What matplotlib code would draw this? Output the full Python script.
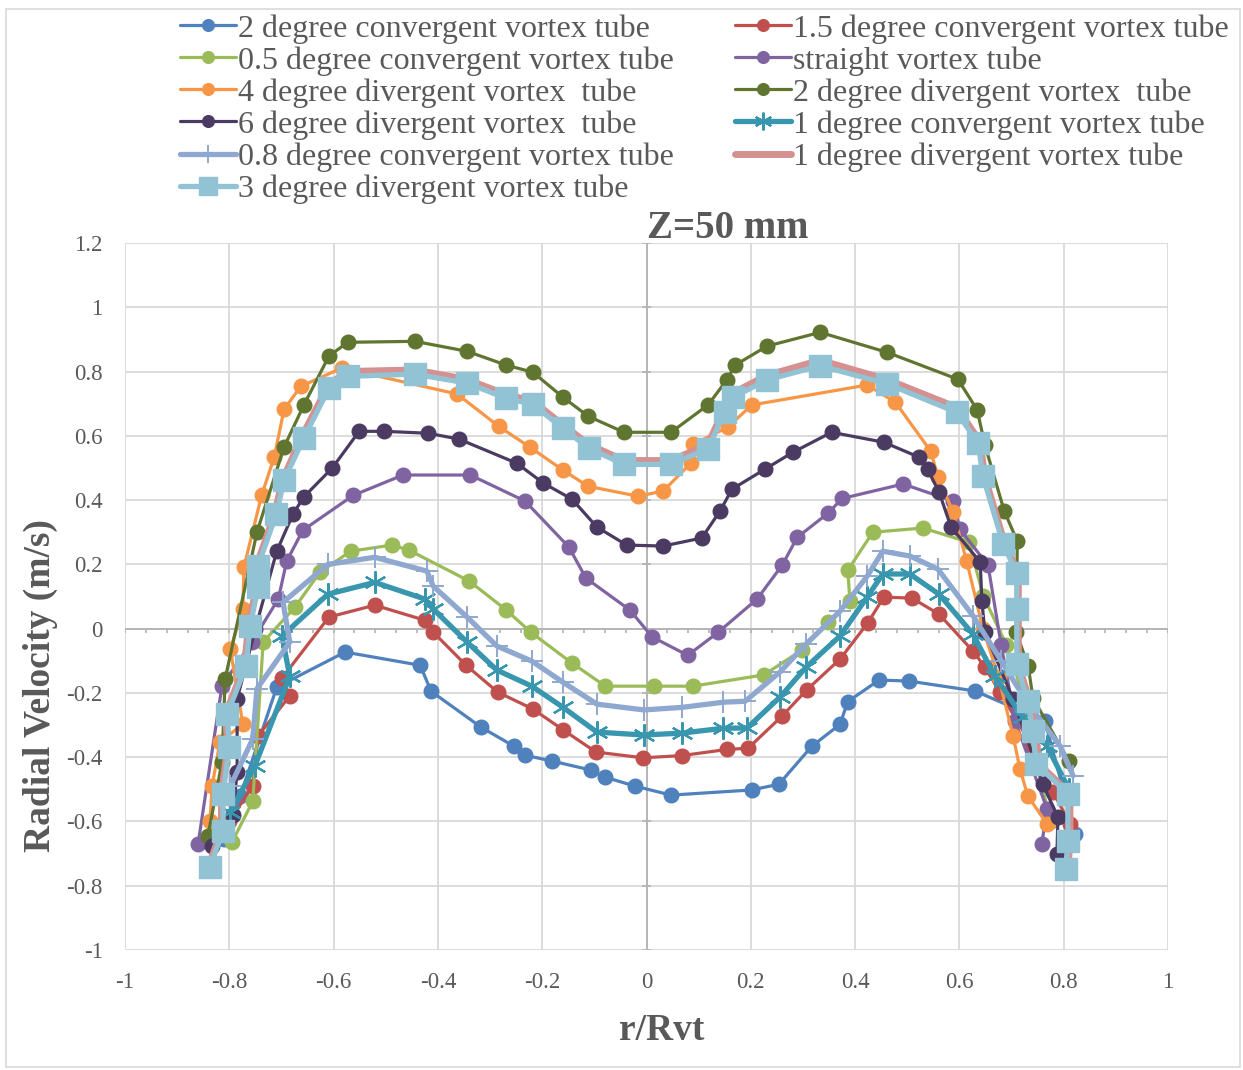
import matplotlib
matplotlib.use('Agg')
import matplotlib.pyplot as plt
from matplotlib.patches import Rectangle
import numpy as np

plt.rcParams['font.family'] = ['Liberation Serif', 'DejaVu Serif']

# ---------------- data ----------------
labels = ["2 degree convergent vortex tube", "1.5 degree convergent vortex tube",
          "0.5 degree convergent vortex tube", "straight vortex tube",
          "4 degree divergent vortex  tube", "2 degree divergent vortex  tube",
          "6 degree divergent vortex  tube", "1 degree convergent vortex tube",
          "0.8 degree convergent vortex tube", "1 degree divergent vortex tube",
          "3 degree divergent vortex tube"]

x_conv2 = [-0.81, -0.779, -0.709, -0.578, -0.434, -0.413, -0.317, -0.254, -0.233, -0.181, -0.107, -0.080,
           -0.022, 0.047, 0.202, 0.254, 0.317, 0.371, 0.386, 0.446, 0.503, 0.630, 0.764, 0.822]
y_conv2 = [-0.655, -0.521, -0.182, -0.073, -0.114, -0.195, -0.307, -0.366, -0.394, -0.412, -0.440, -0.462,
           -0.490, -0.518, -0.502, -0.484, -0.366, -0.298, -0.227, -0.160, -0.163, -0.194, -0.288, -0.639]

x_conv15 = [-0.80, -0.755, -0.745, -0.684, -0.699, -0.609, -0.521, -0.425, -0.409, -0.346, -0.285, -0.218,
            -0.160, -0.097, -0.007, 0.068, 0.154, 0.195, 0.260, 0.307, 0.371, 0.424, 0.455, 0.509, 0.561,
            0.626, 0.649, 0.678, 0.739, 0.780, 0.812]
y_conv15 = [-0.60, -0.489, -0.334, -0.209, -0.154, 0.036, 0.073, 0.026, -0.011, -0.114, -0.198, -0.250,
            -0.315, -0.384, -0.402, -0.395, -0.376, -0.372, -0.272, -0.191, -0.095, 0.017, 0.098, 0.095, 0.045,
            -0.070, -0.120, -0.198, -0.365, -0.509, -0.608]

x_conv05 = [-0.795, -0.755, -0.735, -0.674, -0.626, -0.567, -0.488, -0.455, -0.340, -0.269, -0.222, -0.143,
            -0.079, 0.014, 0.089, 0.225, 0.298, 0.348, 0.390, 0.386, 0.434, 0.530, 0.618, 0.646, 0.690,
            0.725, 0.745, 0.775]
y_conv05 = [-0.665, -0.537, -0.042, 0.067, 0.176, 0.241, 0.260, 0.244, 0.148, 0.058, -0.011, -0.107,
            -0.179, -0.179, -0.179, -0.144, -0.067, 0.020, 0.086, 0.182, 0.300, 0.313, 0.269, 0.101, -0.050,
            -0.220, -0.400, -0.600]

x_straight = [-0.860, -0.814, -0.757, -0.706, -0.690, -0.659, -0.562, -0.467, -0.338, -0.233, -0.149, -0.116,
              -0.032, 0.011, 0.079, 0.137, 0.212, 0.260, 0.289, 0.348, 0.375, 0.492, 0.588, 0.601, 0.655,
              0.680, 0.707, 0.768, 0.758]
y_straight = [-0.671, -0.178, -0.042, 0.092, 0.210, 0.306, 0.415, 0.478, 0.478, 0.397, 0.254, 0.157,
              0.058, -0.026, -0.083, -0.012, 0.092, 0.197, 0.284, 0.359, 0.405, 0.450, 0.397, 0.309, 0.197,
              -0.050, -0.288, -0.561, -0.670]

x_div4 = [-0.837, -0.833, -0.818, -0.774, -0.798, -0.774, -0.772, -0.738, -0.714, -0.695, -0.663, -0.584,
          -0.363, -0.283, -0.223, -0.160, -0.112, -0.016, 0.032, 0.085, 0.089, 0.156, 0.202, 0.423, 0.477,
          0.545, 0.559, 0.588, 0.614, 0.645, 0.675, 0.703, 0.716, 0.731, 0.768]
y_div4 = [-0.600, -0.490, -0.353, -0.297, -0.064, 0.061, 0.191, 0.415, 0.533, 0.682, 0.754, 0.811,
          0.730, 0.629, 0.564, 0.493, 0.443, 0.412, 0.428, 0.515, 0.573, 0.627, 0.696, 0.758, 0.705,
          0.552, 0.471, 0.362, 0.210, 0.000, -0.150, -0.334, -0.436, -0.520, -0.608]

x_div2 = [-0.841, -0.814, -0.808, -0.747, -0.695, -0.657, -0.609, -0.573, -0.444, -0.344, -0.269, -0.218,
          -0.160, -0.112, -0.043, 0.047, 0.118, 0.154, 0.170, 0.231, 0.333, 0.461, 0.597, 0.634, 0.649,
          0.686, 0.711, 0.709, 0.732, 0.741, 0.810]
y_div2 = [-0.645, -0.415, -0.157, 0.300, 0.565, 0.696, 0.848, 0.891, 0.894, 0.863, 0.820, 0.798,
          0.720, 0.661, 0.611, 0.611, 0.696, 0.774, 0.820, 0.879, 0.922, 0.860, 0.776, 0.681, 0.571,
          0.366, 0.272, -0.011, -0.117, -0.216, -0.412]

x_div6 = [-0.833, -0.793, -0.785, -0.785, -0.750, -0.709, -0.678, -0.657, -0.603, -0.551, -0.503, -0.419,
          -0.360, -0.249, -0.198, -0.143, -0.095, -0.038, 0.032, 0.106, 0.141, 0.164, 0.227, 0.281, 0.355,
          0.455, 0.522, 0.539, 0.561, 0.584, 0.640, 0.643, 0.649, 0.703, 0.760, 0.789, 0.787]
y_div6 = [-0.676, -0.580, -0.446, -0.219, 0.000, 0.241, 0.356, 0.410, 0.499, 0.614, 0.614, 0.608,
          0.590, 0.515, 0.453, 0.403, 0.316, 0.260, 0.257, 0.282, 0.366, 0.434, 0.496, 0.549, 0.611,
          0.580, 0.534, 0.496, 0.425, 0.316, 0.207, 0.086, -0.011, -0.219, -0.484, -0.587, -0.702]

x_conv1 = [-0.798, -0.751, -0.684, -0.699, -0.611, -0.521, -0.425, -0.409, -0.344, -0.287, -0.220, -0.160,
           -0.095, -0.005, 0.068, 0.147, 0.193, 0.256, 0.306, 0.371, 0.423, 0.453, 0.505, 0.561, 0.626,
           0.668, 0.722, 0.768, 0.810]
y_conv1 = [-0.571, -0.427, -0.148, -0.023, 0.107, 0.144, 0.092, 0.061, -0.042, -0.129, -0.179, -0.245,
           -0.322, -0.331, -0.325, -0.310, -0.309, -0.213, -0.120, -0.023, 0.098, 0.170, 0.170, 0.107, -0.017,
           -0.148, -0.276, -0.365, -0.500]

x_conv08 = [-0.798, -0.755, -0.747, -0.684, -0.697, -0.611, -0.521, -0.421, -0.409, -0.344, -0.287, -0.220,
            -0.160, -0.095, -0.005, 0.068, 0.147, 0.189, 0.256, 0.306, 0.371, 0.423, 0.453, 0.505, 0.559,
            0.626, 0.680, 0.730, 0.793, 0.818]
y_conv08 = [-0.490, -0.343, -0.187, -0.042, 0.082, 0.200, 0.222, 0.179, 0.132, 0.036, -0.054, -0.101,
            -0.167, -0.235, -0.253, -0.245, -0.229, -0.226, -0.135, -0.048, 0.054, 0.163, 0.241, 0.226, 0.185,
            0.040, -0.100, -0.230, -0.365, -0.458]

x_div1 = [-0.840, -0.815, -0.815, -0.803, -0.807, -0.771, -0.763, -0.748, -0.748, -0.713, -0.698, -0.660,
          -0.609, -0.573, -0.444, -0.344, -0.269, -0.218, -0.160, -0.110, -0.043, 0.047, 0.118, 0.150,
          0.166, 0.231, 0.333, 0.461, 0.595, 0.640, 0.648, 0.687, 0.713, 0.713, 0.713, 0.734, 0.745,
          0.752, 0.812, 0.812, 0.808]
y_div1 = [-0.740, -0.630, -0.515, -0.368, -0.266, -0.117, 0.008, 0.129, 0.195, 0.356, 0.462, 0.600,
          0.760, 0.800, 0.805, 0.775, 0.728, 0.708, 0.633, 0.572, 0.523, 0.523, 0.573, 0.688,
          0.733, 0.788, 0.835, 0.775, 0.688, 0.580, 0.475, 0.263, 0.173, 0.061, -0.110, -0.225, -0.319,
          -0.421, -0.514, -0.661, -0.748]

x_div3 = [-0.837, -0.812, -0.812, -0.800, -0.804, -0.768, -0.760, -0.745, -0.745, -0.710, -0.695, -0.657,
          -0.609, -0.573, -0.444, -0.344, -0.269, -0.218, -0.160, -0.110, -0.043, 0.047, 0.118, 0.150,
          0.166, 0.231, 0.333, 0.461, 0.595, 0.636, 0.645, 0.684, 0.710, 0.710, 0.710, 0.731, 0.741,
          0.747, 0.808, 0.808, 0.804]
y_div3 = [-0.741, -0.630, -0.515, -0.368, -0.266, -0.117, 0.008, 0.129, 0.195, 0.356, 0.462, 0.593,
          0.748, 0.785, 0.792, 0.764, 0.717, 0.698, 0.623, 0.561, 0.511, 0.511, 0.560, 0.673,
          0.720, 0.774, 0.818, 0.762, 0.673, 0.577, 0.475, 0.263, 0.173, 0.061, -0.110, -0.225, -0.319,
          -0.421, -0.514, -0.661, -0.748]

xs = [x_conv2, x_conv15, x_conv05, x_straight, x_div4, x_div2, x_div6, x_conv1, x_conv08, x_div1, x_div3]
ys = [y_conv2, y_conv15, y_conv05, y_straight, y_div4, y_div2, y_div6, y_conv1, y_conv08, y_div1, y_div3]

x_ticks = [-1, -0.8, -0.6, -0.4, -0.2, 0, 0.2, 0.4, 0.6, 0.8, 1]
y_ticks = [-1, -0.8, -0.6, -0.4, -0.2, 0, 0.2, 0.4, 0.6, 0.8, 1, 1.2]

# ---------------- styles ----------------
colors = ['#4F81BD', '#C0504D', '#9BBB59', '#8064A2', '#F79646', '#5F7530',
          '#4B3B62', '#3896AF', '#8FA8CF', '#D49190', '#92C3D5']
styles = [
    dict(marker='o', ms=10.5, lw=2.3),
    dict(marker='o', ms=10.5, lw=2.3),
    dict(marker='o', ms=10.5, lw=2.3),
    dict(marker='o', ms=10.5, lw=2.3),
    dict(marker='o', ms=10.5, lw=2.3),
    dict(marker='o', ms=10.5, lw=2.3),
    dict(marker='o', ms=10.5, lw=2.3),
    dict(marker=(6, 2, 0), ms=16, lw=3.8, mew=1.6),
    dict(marker='+', ms=16, lw=3.8, mew=1.4),
    dict(marker='None', ms=0, lw=5.0),
    dict(marker='s', ms=15.5, lw=3.8),
]

W, H = 1243, 1070
fig = plt.figure(figsize=(W / 100, H / 100), dpi=100)
ax = fig.add_axes([125 / W, 1 - 950 / H, (1168 - 125) / W, (950 - 243) / H])

grid_c = '#D9D9D9'
txt_c = '#595959'

ax.set_xlim(-1, 1)
ax.set_ylim(-1, 1.2)
ax.set_xticks(x_ticks)
ax.set_yticks(y_ticks)
ax.set_xticklabels([('%g' % v) for v in x_ticks])
ax.set_yticklabels([('%g' % v) for v in y_ticks])
ax.tick_params(length=0, labelsize=16.5, colors=txt_c)
ax.tick_params(axis='x', pad=16)
ax.tick_params(axis='y', pad=16)
for s in ax.spines.values():
    s.set_visible(False)
ax.grid(True, color=grid_c, lw=1.3, zorder=0)
ax.set_axisbelow(True)

# zero axes with tick marks
axis_c = '#B3B3B3'
ax.axhline(0, color=axis_c, lw=1.3, zorder=1)
ax.axvline(0, color=axis_c, lw=1.3, zorder=1)
minor = np.arange(-1, 1.0001, 0.04)
ax.vlines(minor, -0.013, 0, color=axis_c, lw=1.2, zorder=1)
ax.hlines(y_ticks, -0.008, 0.008, color=axis_c, lw=1.2, zorder=1)

handles = []
for i in range(len(xs)):
    st = styles[i]
    h, = ax.plot(xs[i], ys[i], color=colors[i], lw=st['lw'], marker=st['marker'],
                 ms=st['ms'], mew=st.get('mew', 1.0), mfc=colors[i], mec=colors[i],
                 solid_joinstyle='round', solid_capstyle='round', zorder=3 + i, label=labels[i])
    handles.append(h)

fig.text(662 / W, 1 - 1030 / H, 'r/Rvt', fontsize=27, fontweight='bold', color=txt_c,
         ha='center', va='center')
fig.text(40 / W, 1 - 686 / H, 'Radial Velocity (m/s)', fontsize=27, fontweight='bold',
         color=txt_c, ha='center', va='center', rotation=90)
fig.text(728 / W, 1 - 229 / H, 'Z=50 mm', fontsize=28, fontweight='bold', color=txt_c,
         ha='center', va='center')

# legend: two columns, filled row-wise like the original
left_idx = [0, 2, 4, 6, 8, 10]
right_idx = [1, 3, 5, 7, 9]
leg_kw = dict(frameon=False, fontsize=23, handlelength=1.75, handletextpad=0.06,
              labelspacing=0.08, borderpad=0, borderaxespad=0, numpoints=1, loc='upper left',
              labelcolor=txt_c, markerscale=0.8)
leg1 = fig.legend([handles[i] for i in left_idx], [labels[i] for i in left_idx],
                  bbox_to_anchor=(180 / W, 1 - 14 / H), **leg_kw)
leg2 = fig.legend([handles[i] for i in right_idx], [labels[i] for i in right_idx],
                  bbox_to_anchor=(735 / W, 1 - 14 / H), **leg_kw)

fig.patches.append(Rectangle((6 / W, 0.003), (W - 9) / W, 1 - 9 / H - 0.003,
                             transform=fig.transFigure, fill=False, ec='#D9D9D9', lw=1.2))

fig.savefig('out.png', dpi=100, facecolor='white')
